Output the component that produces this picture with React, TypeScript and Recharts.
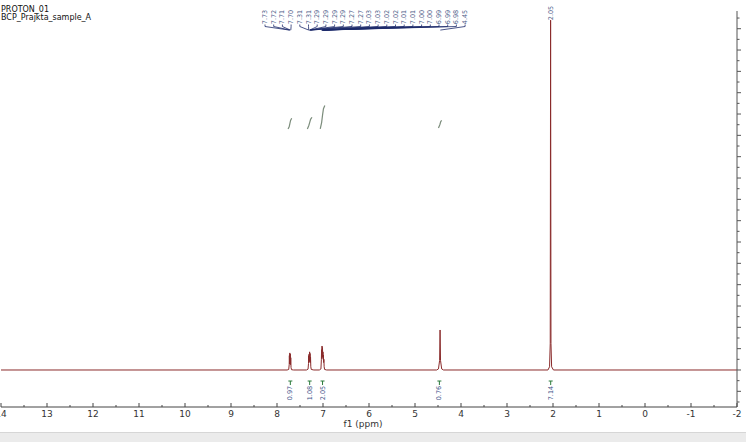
import React from 'react';
import { ComposedChart, Line, Scatter, XAxis, YAxis } from 'recharts';

// 1H spectrum, intensity in arbitrary units (baseline = 0)
const spectrum: [number, number][] = [
  [14, 0],
  [7.78, 0], [7.745, 0.05], [7.735, 0.5], [7.731, 1.35], [7.726, 0.55], [7.721, 1.6],
  [7.716, 0.6], [7.711, 1.5], [7.706, 0.5], [7.701, 1.15], [7.695, 0.25], [7.685, 0.03], [7.64, 0],
  [7.36, 0], [7.325, 0.08], [7.315, 0.6], [7.311, 1.35], [7.306, 0.7], [7.301, 1.5], [7.296, 0.8],
  [7.291, 1.7], [7.286, 0.9], [7.281, 1.55], [7.276, 0.7], [7.271, 1.2], [7.265, 0.3], [7.255, 0.05], [7.2, 0],
  [7.08, 0], [7.045, 0.1], [7.035, 1.0], [7.031, 1.9], [7.026, 1.1], [7.021, 2.25], [7.016, 1.3],
  [7.011, 2.1], [7.006, 1.2], [7.001, 1.7], [6.996, 1.0], [6.991, 1.4], [6.986, 0.7], [6.981, 1.0],
  [6.975, 0.3], [6.965, 0.05], [6.92, 0],
  [4.53, 0], [4.49, 0.1], [4.465, 0.9], [4.455, 3.75], [4.445, 0.9], [4.42, 0.1], [4.38, 0],
  [2.11, 0], [2.075, 0.3], [2.06, 2.5], [2.052, 32.8], [2.044, 2.5], [2.03, 0.3], [1.99, 0],
  [-2, 0],
];

const peakLabelPpm = [
  7.73, 7.72, 7.71, 7.70, 7.31, 7.31, 7.29, 7.29, 7.29, 7.29, 7.27, 7.27,
  7.03, 7.03, 7.02, 7.02, 7.01, 7.01, 7.00, 7.00, 6.99, 6.99, 6.98, 4.45,
];
const isolatedPeakPpm = [2.05];

const integralPpm = [7.71, 7.29, 7.01, 4.47, 2.05];
const integralValues = [0.97, 1.08, 2.05, 0.76, 7.14];

const integralCurves: [number, number][][] = [
  [[7.76, 22.6], [7.735, 22.8], [7.72, 23.1], [7.705, 23.4], [7.68, 23.6]],
  [[7.34, 22.6], [7.31, 22.9], [7.29, 23.2], [7.27, 23.5], [7.24, 23.7]],
  [[7.06, 22.6], [7.03, 23.2], [7.01, 23.9], [6.99, 24.5], [6.96, 24.8]],
  [[4.49, 22.7], [4.46, 23.0], [4.44, 23.3], [4.42, 23.4]],
];

const xTicks = [
  14, 13.5, 13, 12.5, 12, 11.5, 11, 10.5, 10, 9.5, 9, 8.5, 8, 7.5, 7, 6.5, 6,
  5.5, 5, 4.5, 4, 3.5, 3, 2.5, 2, 1.5, 1, 0.5, 0, -0.5, -1, -1.5, -2,
];
const yTicks = Array.from({ length: 37 }, (_, i) => i - 3);

const specData = spectrum.map(([ppm, v]) => ({ ppm, v }));
const labelData = peakLabelPpm.map((ppm, i) => ({ ppm, y: 31.87, i }));
const isolatedData = isolatedPeakPpm.map((ppm) => ({ ppm, y: 32.8 }));
const integralData = integralPpm.map((ppm, i) => ({ ppm, y: -2.16, val: integralValues[i] }));

const LABEL_X0 = 265;
const LABEL_STEP = 8.7;
const FONT = '"DejaVu Sans", Verdana, sans-serif';

const PeakLabel = (props: any) => {
  const { cx, cy, payload } = props;
  const lx = LABEL_X0 + payload.i * LABEL_STEP;
  return (
    <g>
      <text
        transform={`rotate(-90 ${lx} 17)`}
        x={lx}
        y={17}
        textAnchor="middle"
        dominantBaseline="central"
        fontSize={6.5}
        fontFamily={FONT}
        fill="#4b5b88"
      >
        {payload.ppm.toFixed(2)}
      </text>
      <polyline
        points={`${lx},24.5 ${lx},26.5 ${cx},${cy}`}
        fill="none"
        stroke="#1d2b6b"
        strokeWidth={0.8}
      />
    </g>
  );
};

const IsolatedLabel = (props: any) => {
  const { cx, payload } = props;
  return (
    <text
      transform={`rotate(-90 ${cx} 13)`}
      x={cx}
      y={13}
      textAnchor="middle"
      dominantBaseline="central"
      fontSize={6.5}
      fontFamily={FONT}
      fill="#4b5b88"
    >
      {payload.ppm.toFixed(2)}
    </text>
  );
};

const IntegralLabel = (props: any) => {
  const { cx, cy, payload } = props;
  return (
    <g>
      <line x1={cx} x2={cx} y1={cy - 12} y2={cy - 8} stroke="#2a7a3a" strokeWidth={1} />
      <line x1={cx - 2} x2={cx + 2} y1={cy - 12} y2={cy - 12} stroke="#2a7a3a" strokeWidth={1} />
      <text
        transform={`rotate(-90 ${cx} ${cy})`}
        x={cx}
        y={cy}
        textAnchor="middle"
        dominantBaseline="central"
        fontSize={6.5}
        fontFamily={FONT}
        fill="#3c5088"
      >
        {payload.val.toFixed(2)}
      </text>
    </g>
  );
};

const XTick = (props: any) => {
  const { x, y, payload } = props;
  const major = Number.isInteger(payload.value);
  return (
    <g>
      <line x1={x} x2={x} y1={y} y2={y - (major ? 4 : 2)} stroke="#444" />
      {major && (
        <text x={x} y={y + 10} textAnchor="middle" fontSize={9} fontFamily={FONT} fill="#333">
          {payload.value}
        </text>
      )}
    </g>
  );
};

const YTick = (props: any) => {
  const { x, y, payload } = props;
  const major = payload.value % 2 === 0;
  return <line x1={x} x2={x + (major ? 4 : 2.5)} y1={y} y2={y} stroke="#555" />;
};

const AxisTitle = (props: any) => {
  const { viewBox } = props;
  return (
    <text
      x={viewBox.x + viewBox.width / 2 - 6}
      y={viewBox.y + 19.5}
      textAnchor="middle"
      fontSize={9}
      fontFamily={FONT}
      fill="#333"
    >
      f1 (ppm)
    </text>
  );
};

export default function App() {
  return (
    <div style={{ position: 'fixed', left: 0, top: 0, width: 746, height: 442, background: '#fff' }}>
      <ComposedChart width={746} height={434} margin={{ top: 11, right: 0, bottom: 0, left: 1 }}>
        <XAxis
          dataKey="ppm"
          type="number"
          domain={[-2, 14]}
          reversed
          ticks={xTicks}
          interval={0}
          height={27}
          tickSize={0}
          tickMargin={0}
          tickLine={false}
          axisLine={{ stroke: '#444' }}
          tick={<XTick />}
          label={<AxisTitle />}
        />
        <YAxis
          yAxisId="r"
          orientation="right"
          type="number"
          domain={[-3.47, 33.66]}
          ticks={yTicks}
          interval={0}
          width={9}
          tickSize={0}
          tickMargin={0}
          tickLine={false}
          axisLine={{ stroke: '#555' }}
          tick={<YTick />}
        />
        {integralCurves.map((c, k) => (
          <Line
            key={k}
            yAxisId="r"
            data={c.map(([ppm, v]) => ({ ppm, v }))}
            dataKey="v"
            type="linear"
            stroke="#7b8c7b"
            strokeWidth={1.2}
            dot={false}
            isAnimationActive={false}
          />
        ))}
        <Line
          yAxisId="r"
          data={specData}
          dataKey="v"
          type="linear"
          stroke="#8a2b2b"
          strokeWidth={1}
          dot={false}
          isAnimationActive={false}
        />
        <Scatter yAxisId="r" data={labelData} dataKey="y" shape={<PeakLabel />} isAnimationActive={false} />
        <Scatter yAxisId="r" data={isolatedData} dataKey="y" shape={<IsolatedLabel />} isAnimationActive={false} />
        <Scatter yAxisId="r" data={integralData} dataKey="y" shape={<IntegralLabel />} isAnimationActive={false} />
      </ComposedChart>
      <div
        style={{
          position: 'absolute',
          left: 1,
          top: 6,
          fontFamily: FONT,
          fontSize: 8,
          lineHeight: '8px',
          color: '#111',
        }}
      >
        <div>PROTON_01</div>
        <div>BCP_Prajkta_sample_A</div>
      </div>
      <div
        style={{
          position: 'absolute',
          left: 0,
          top: 432,
          width: 746,
          height: 10,
          background: '#ebebeb',
          borderTop: '1px solid #d6d6d6',
        }}
      />
    </div>
  );
}
